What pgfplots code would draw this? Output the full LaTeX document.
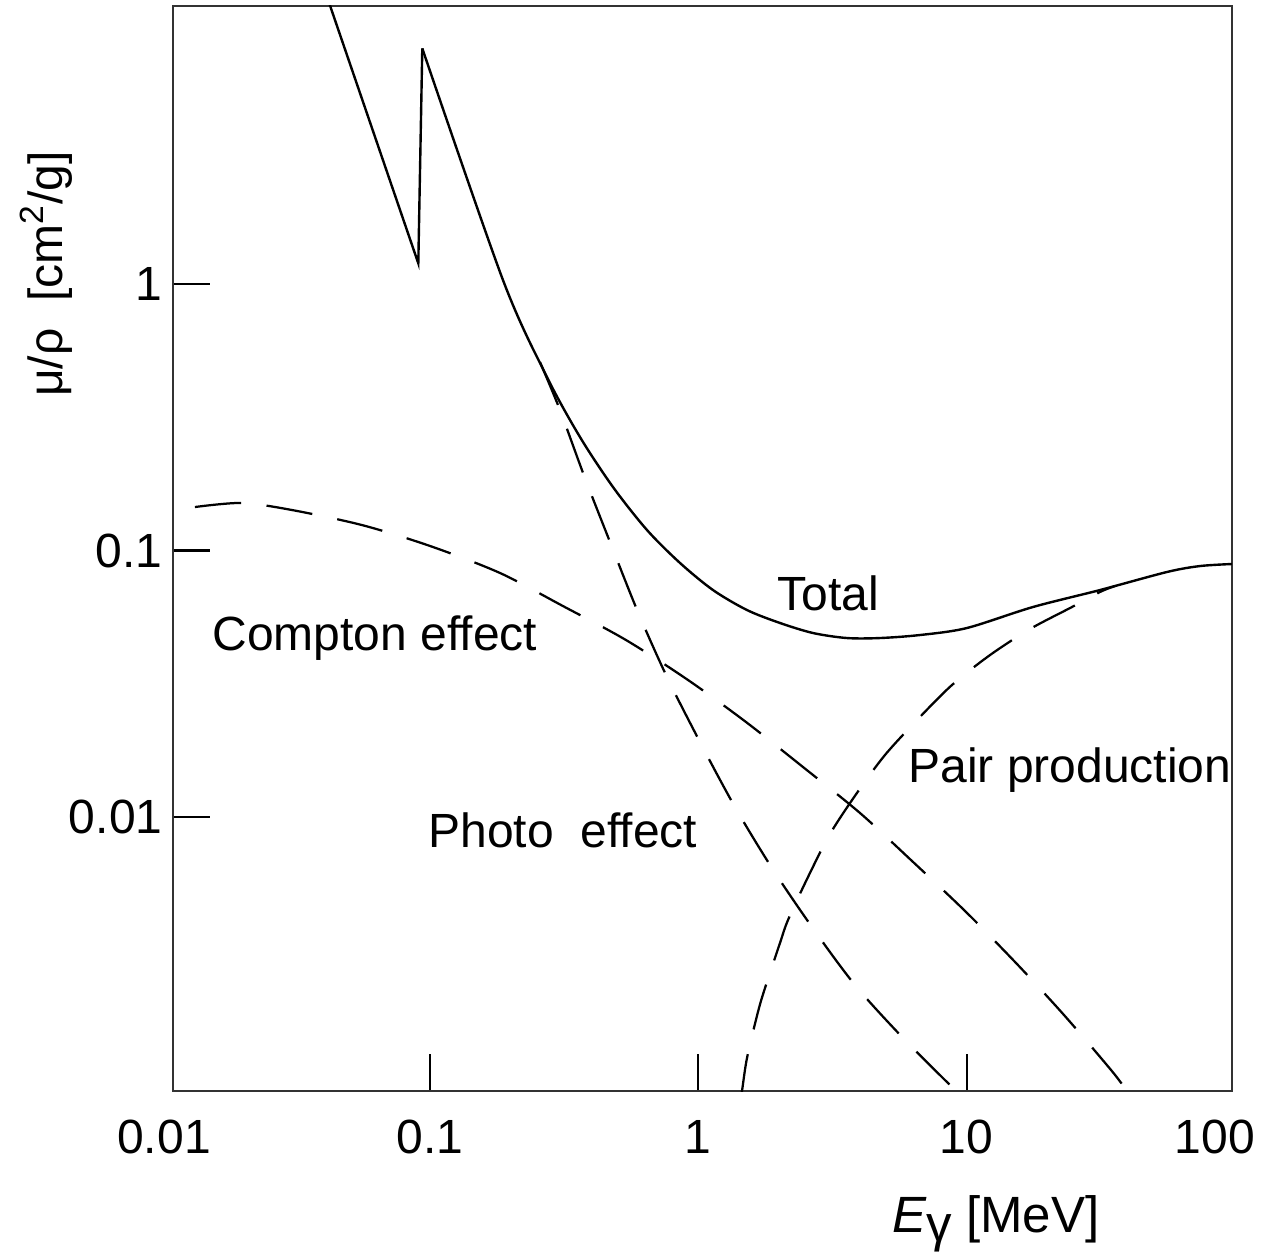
\documentclass[border=0pt]{standalone}
\usepackage{fontspec}
\setmainfont{Liberation Sans}
\usepackage{pgfplots}
\pgfplotsset{compat=1.18}
\newcommand{\fs}{\fontsize{16}{19}\selectfont}
\begin{document}
\begin{tikzpicture}
\begin{axis}[
  at={(0,0)}, anchor=south west,
  scale only axis, width=353pt, height=361.67pt,
  xmode=log, ymode=log,
  xmin=0.01102, xmax=97.54, ymin=0.000937, ymax=11.05,
  xtick={0.1,1,10}, xticklabels={0.1,1,10},
  ytick={0.01,0.1,1}, yticklabels={0.01,0.1,1},
  xminorticks=false, yminorticks=false,
  xtick pos=bottom, ytick pos=left,
  tick align=inside, major tick length=12.5pt,
  axis line style={line width=0.9pt, black!80},
  major tick style={line width=0.7pt, black},
  ticklabel style={font=\fs},
  xticklabel style={anchor=base, yshift=-20.67pt},
  ylabel={μ/ρ\ \ [cm\textsuperscript{2}/g]},
  ylabel style={at={(rel axis cs:-0.12,0.753)}, anchor=center, font=\fs},
  xlabel={\textit{E}\raisebox{-0.35ex}{γ} [MeV]},
  xlabel style={at={(rel axis cs:0.777,-0.130)}, anchor=base, font=\fontsize{17}{20}\selectfont},
  clip mode=individual,
]
% Compton effect
\addplot[black, line width=0.75pt, dash pattern=on 15.5pt off 8.5pt, smooth] coordinates {
  (0.01330,0.1456) (0.01992,0.1508) (0.03058,0.1419) (0.05579,0.1246)
  (0.1,0.1040) (0.1824,0.08234) (0.3131,0.06188) (0.5377,0.04614)
  (0.9154,0.03267) (1.506,0.02272) (2.456,0.01540) (4.006,0.01035)
  (6.259,0.006838) (9.863,0.004440) (15.28,0.002833) (23.07,0.001807)
  (34.53,0.001124) (39.62,0.000937) (42.43,0.000852)
};
% Photo effect
\addplot[black, line width=0.75pt, dash pattern=on 15.5pt off 8.5pt, smooth] coordinates {
  (0.2570,0.5098) (0.3051,0.3367) (0.3781,0.1871) (0.4768,0.1031)
  (0.5958,0.05877) (0.7646,0.03352) (1.0146,0.01912) (1.370,0.01090)
  (1.882,0.006436) (2.653,0.003866) (3.837,0.002342) (5.794,0.001482)
  (9.131,0.000937) (9.95,0.000859)
};
% Pair production
\addplot[black, line width=0.75pt, dash pattern=on 15.5pt off 8.5pt, smooth] coordinates {
  (1.430,0.000867) (1.455,0.000937) (1.519,0.001246) (1.669,0.001855)
  (1.773,0.002282) (2.016,0.003366) (2.160,0.004107) (2.564,0.005953)
  (3.097,0.008636) (3.904,0.01231) (4.965,0.01709) (6.592,0.02332)
  (8.822,0.03128) (12.23,0.04053) (17.23,0.05074) (24.71,0.06138)
  (31.42,0.06988) (35.74,0.07358)
};
% Total (absorption edge)
\addplot[black, line width=0.8pt, sharp plot] coordinates {
  (0.0410,12.25) (0.09046,1.196) (0.09361,7.66)
};
% Total
\addplot[black, line width=0.8pt, smooth] coordinates {
  (0.09361,7.66) (0.1871,1.035) (0.2729,0.4477) (0.3623,0.2666)
  (0.4809,0.1731) (0.6438,0.1194) (0.8547,0.0898) (1.1346,0.07107)
  (1.519,0.05979) (2.016,0.05346) (2.676,0.04902) (3.583,0.04694)
  (4.755,0.04694) (6.705,0.04818) (10.03,0.05119) (17.68,0.06138)
  (31.42,0.07107) (55.84,0.08306) (74.13,0.08744) (97.54,0.08899)
};
\node[anchor=base west, inner sep=0pt, font=\fs] at (axis cs:1.965,0.05979) {Total};
\node[anchor=base west, inner sep=0pt, font=\fs] at (axis cs:0.01540,0.04232) {Compton effect};
\node[anchor=base west, inner sep=0pt, font=\fs] at (axis cs:6.047,0.01353) {Pair production};
\node[anchor=base west, inner sep=0pt, font=\fs] at (axis cs:0.0983,0.007717) {Photo\ \ effect};
\node[anchor=base, font=\fs, yshift=-20.67pt] at (rel axis cs:-0.0085,0) {0.01};
\node[anchor=base, font=\fs, yshift=-20.67pt] at (rel axis cs:0.984,0) {100};
\end{axis}
\pgfresetboundingbox
\useasboundingbox (-57.67pt,-53.67pt) rectangle (363pt,363.67pt);
\end{tikzpicture}
\end{document}
